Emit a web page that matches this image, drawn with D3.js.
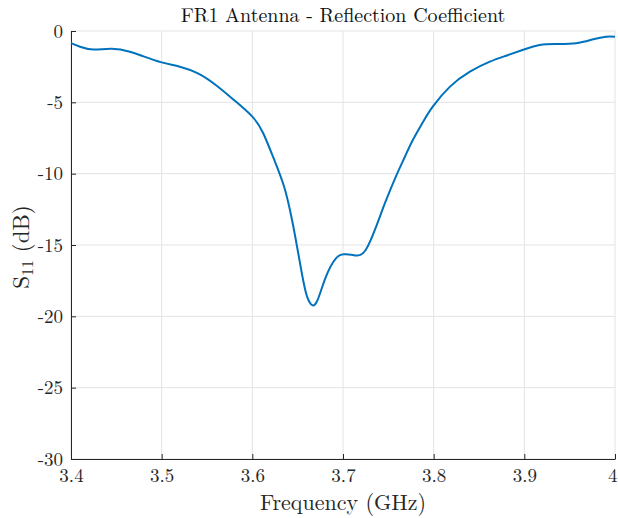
<!DOCTYPE html>
<html>
<head>
<meta charset="utf-8">
<script src="https://cdn.jsdelivr.net/npm/d3@7"></script>
<style>
  body { margin: 0; background: #fff; }
  svg { display: block; }
</style>
</head>
<body>
<div id="chart"></div>
<script>
// values
var freq = [3.400, 3.410, 3.425, 3.445, 3.465, 3.480, 3.500, 3.520, 3.540, 3.560,
            3.580, 3.600, 3.612, 3.624, 3.635, 3.643, 3.649, 3.656, 3.661, 3.666,
            3.672, 3.681, 3.692, 3.701, 3.709, 3.716, 3.725, 3.736, 3.747, 3.759,
            3.768, 3.777, 3.788, 3.799, 3.818, 3.840, 3.862, 3.880, 3.898, 3.917,
            3.935, 3.957, 3.976, 3.990, 4.000];
var s11 = [-0.85, -1.10, -1.30, -1.24, -1.45, -1.78, -2.20, -2.50, -2.97, -3.80,
           -4.85, -6.00, -7.17, -9.00, -10.90, -13.00, -15.00, -17.45, -18.73, -19.22,
           -18.85, -17.25, -15.95, -15.65, -15.68, -15.74, -15.35, -13.80, -11.95, -10.10,
           -8.85, -7.64, -6.40, -5.30, -3.90, -2.85, -2.15, -1.73, -1.33, -0.98,
           -0.91, -0.86, -0.58, -0.40, -0.40];
var xTicks = [3.4, 3.5, 3.6, 3.7, 3.8, 3.9, 4];
var yTicks = [0, -5, -10, -15, -20, -25, -30];

var FONT = "'Latin Modern Roman', 'Liberation Serif', serif";
var W = 618, H = 518,
    margin = {top: 31, right: 3, bottom: 59, left: 71};

var svg = d3.select("#chart").append("svg")
    .attr("width", W)
    .attr("height", H);

var x = d3.scaleLinear().domain([3.4, 4]).range([margin.left, W - margin.right]);
var y = d3.scaleLinear().domain([-30, 0]).range([H - margin.bottom, margin.top]);

// grid
svg.append("g").selectAll("line")
    .data(xTicks).enter().append("line")
    .attr("x1", function (d) { return x(d); })
    .attr("x2", function (d) { return x(d); })
    .attr("y1", y(-30)).attr("y2", y(0))
    .attr("stroke", "#e3e3e3").attr("stroke-width", 1);
svg.append("g").selectAll("line")
    .data(yTicks).enter().append("line")
    .attr("x1", x(3.4)).attr("x2", x(4))
    .attr("y1", function (d) { return y(d); })
    .attr("y2", function (d) { return y(d); })
    .attr("stroke", "#e3e3e3").attr("stroke-width", 1);

// axes, ticks pointing inward like matlab
var xAxis = d3.axisBottom(x).tickValues(xTicks).tickSizeInner(-5).tickSizeOuter(0).tickPadding(10)
    .tickFormat(function (d) { return d === 4 ? "4" : d3.format(".1f")(d); });
var yAxis = d3.axisLeft(y).tickValues(yTicks).tickSizeInner(-5).tickSizeOuter(0).tickPadding(8)
    .tickFormat(function (d) { return String(d); });

var gx = svg.append("g")
    .attr("transform", "translate(0," + y(-30) + ")")
    .call(xAxis);
var gy = svg.append("g")
    .attr("transform", "translate(" + x(3.4) + ",0)")
    .call(yAxis);

[gx, gy].forEach(function (g) {
    g.attr("font-family", null).attr("font-size", null);
    g.select(".domain").attr("stroke", "#262626").attr("stroke-width", 1);
    g.selectAll(".tick line").attr("stroke", "#262626");
    g.selectAll(".tick text")
        .style("font-family", FONT)
        .style("font-size", "19px")
        .attr("fill", "#262626");
});
// the "4" label sits at the right edge, keep it inside
gx.selectAll(".tick text").filter(function (d) { return d === 4; })
    .attr("text-anchor", "end").attr("dx", 2);

// curve
var line = d3.line()
    .x(function (d, i) { return x(freq[i]); })
    .y(function (d) { return y(d); })
    .curve(d3.curveNatural);

svg.append("path")
    .datum(s11)
    .attr("d", line)
    .attr("fill", "none")
    .attr("stroke", "#0072BD")
    .attr("stroke-width", 2);

// title
svg.append("text")
    .attr("x", 343)
    .attr("y", 22)
    .attr("text-anchor", "middle")
    .style("font-family", FONT)
    .style("font-size", "20px")
    .attr("fill", "#111")
    .text("FR1 Antenna - Reflection Coefficient");

// x label
svg.append("text")
    .attr("x", 343)
    .attr("y", 510)
    .attr("text-anchor", "middle")
    .style("font-family", FONT)
    .style("font-size", "22px")
    .attr("fill", "#262626")
    .text("Frequency (GHz)");

// y label with subscript
var yl = svg.append("text")
    .attr("transform", "translate(29," + (y(-15) + 2) + ") rotate(-90)")
    .attr("text-anchor", "middle")
    .style("font-family", FONT)
    .style("font-size", "23px")
    .attr("fill", "#262626");
yl.append("tspan").text("S");
yl.append("tspan").attr("dy", 4).style("font-size", "16px").text("11");
yl.append("tspan").attr("dy", -4).text(" (dB)");
</script>
</body>
</html>
